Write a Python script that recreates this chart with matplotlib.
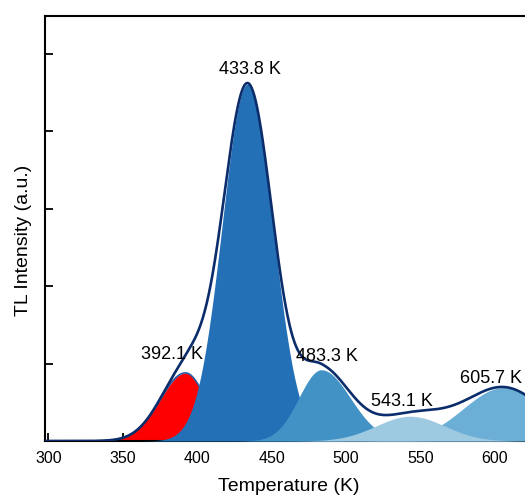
import numpy as np
import matplotlib
matplotlib.use("Agg")
import matplotlib.pyplot as plt

plt.rcParams['font.family'] = ['Liberation Sans', 'DejaVu Sans']

# fitted TL glow peaks (temperature in K, intensity in a.u.)
peak_labels = ["392.1 K", "433.8 K", "483.3 K", "543.1 K", "605.7 K"]
peak_T = [392.1, 433.8, 483.3, 543.1, 605.7]
peak_height = [0.88, 4.61, 0.92, 0.32, 0.69]
width_low = [17.0, 17.0, 15.0, 23.0, 27.0]   # low-temperature side
width_high = [14.0, 17.0, 19.5, 23.0, 27.0]  # high-temperature side
peak_colors = ["#ff0000", "#2470b6", "#4292c6", "#9ecae1", "#6baed6"]
draw_order = [0, 1, 2, 4, 3]
label_xy = [(383.0, 1.115), (435.5, 4.795), (487.2, 1.095), (537.4, 0.505), (597.0, 0.805)]

T = np.linspace(297.8, 626, 1200)
comps = []
for c, h, wl, wh in zip(peak_T, peak_height, width_low, width_high):
    w = np.where(T < c, wl, wh)
    comps.append(h * np.exp(-(T - c) ** 2 / (2 * w ** 2)))
total = np.sum(comps, axis=0)

fig = plt.figure(figsize=(5.25, 4.98), dpi=100)
ax = fig.add_axes([45 / 525, 57 / 498, 488 / 525, 425 / 498])

for i in draw_order:
    ax.fill_between(T, 0, comps[i], color=peak_colors[i], lw=0, zorder=2 + draw_order.index(i))
ax.plot(T, comps[0], color="#2a5ea8", lw=1.2, zorder=2.5)
ax.plot(T, total, color="#0c2d6b", lw=1.9, zorder=10)

for lab, (x, y) in zip(peak_labels, label_xy):
    ax.text(x, y, lab, fontsize=13, ha="center", va="center", zorder=11)

ax.set_xlim(297.8, 625.5)
ax.set_ylim(0, 5.49)
ax.set_xticks([300, 350, 400, 450, 500, 550, 600])
ax.set_yticks([0, 1, 2, 3, 4, 5])
ax.set_yticklabels([])
ax.tick_params(direction="in", length=6, width=1.3, labelsize=11.5, pad=7)
for s in ax.spines.values():
    s.set_linewidth(1.5)
ax.set_xlabel("Temperature (K)", fontsize=14, labelpad=9)
ax.set_ylabel("TL Intensity (a.u.)", fontsize=14)
ax.yaxis.set_label_coords(-0.027, 0.473)

fig.savefig("out.png", dpi=100)
